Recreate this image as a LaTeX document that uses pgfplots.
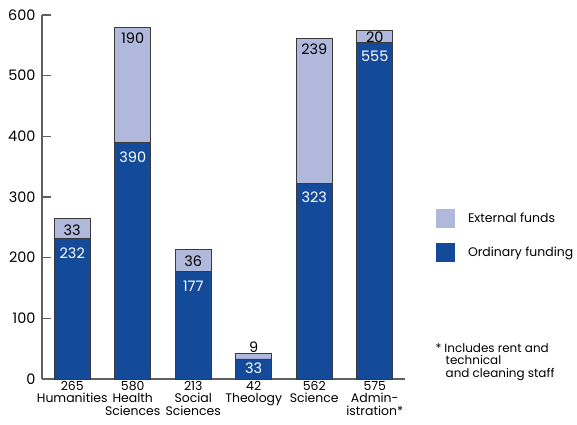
\documentclass[border=0pt]{standalone}
\usepackage{pgfplots}
\pgfplotsset{compat=1.18}
\usepackage{fontspec}
\setmainfont{Poppins}
\definecolor{ordblue}{HTML}{144A9A}
\definecolor{extblue}{HTML}{B0B9DC}
\definecolor{axisgray}{HTML}{606060}
\definecolor{edgegray}{HTML}{3A3A3A}
\tikzset{labelfont/.style={font=\fontsize{14.5}{15}\selectfont, inner sep=1bp}}

% Staff costs per faculty: ordinary funding and external funds
\pgfplotstableread{
x total ordinary external
0 265 232 33
1 580 390 190
2 213 177 36
3 42  33  9
4 562 323 239
5 575 555 20
}\costs

\begin{document}
\begin{tikzpicture}
\path[use as bounding box] (-42bp,-46bp) rectangle (535bp,379bp);
\begin{axis}[
  anchor=south west, at={(0,0)},
  scale only axis, width=363bp, height=364bp, clip=false,
  xmin=-0.5, xmax=5.5, ymin=0, ymax=600,
  axis lines=left, axis line style={axisgray, line width=1.3pt, -},
  ytick={0,100,...,600},
  ytick style={axisgray, line width=1.3pt},
  major tick length=9bp,
  tick align=inside,
  xtick={0,...,5}, xtick style={draw=none},
  xticklabels={265\\Humanities, 580\\Health\\Sciences, 213\\Social\\Sciences,
    42\\Theology, 562\\Science, 575\\Admin-\\istration*},
  xticklabel style={align=center, font=\fontsize{12.5}{12.5}\selectfont, inner sep=1bp, yshift=-1bp},
  yticklabel style={font=\fontsize{14.5}{15}\selectfont, xshift=-3bp},
  /pgf/number format/assume math mode=true,
  legend style={draw=none, fill=none, at={(1.085,0.467)}, anchor=north west,
    font=\fontsize{12.5}{13}\selectfont, row sep=15bp, inner sep=0pt,
    /tikz/every even column/.style={column sep=0pt}},
  legend cell align=left,
  legend image code/.code={\fill[#1, draw=none] (0bp,-9.5bp) rectangle (19bp,9.5bp);},
]
% full bar height (external funds on top of ordinary funding)
\addplot[ybar, bar width=36bp, bar shift=0pt, fill=extblue, draw=edgegray, line width=0.9pt]
  table[x=x, y=total] {\costs};
\addlegendentry{\hspace{11bp}External funds}
% ordinary funding drawn over the lower part
\addplot[ybar, bar width=36bp, bar shift=0pt, fill=ordblue, draw=edgegray, line width=0.9pt]
  table[x=x, y=ordinary] {\costs};
\addlegendentry{\hspace{11bp}Ordinary funding}

% value labels: ordinary funding
\addplot[forget plot, only marks, mark=none, point meta=explicit,
  nodes near coords, nodes near coords style={labelfont, anchor=north, white, yshift=-8bp}]
  table[x=x, y=ordinary, meta=ordinary] {
x ordinary
0 232
1 390
2 177
4 323
5 555
};
\addplot[forget plot, only marks, mark=none, point meta=explicit,
  nodes near coords, nodes near coords style={labelfont, anchor=north, white, inner sep=0pt, yshift=-3.5bp}]
  table[x=x, y=ordinary, meta=ordinary] {
x ordinary
3 33
};
% value labels: external funds
\addplot[forget plot, only marks, mark=none, point meta=explicit,
  nodes near coords, nodes near coords style={labelfont, anchor=north, black, yshift=-5bp}]
  table[x=x, y=total, meta=external] {
x total external
0 265 33
1 580 190
2 213 36
4 562 239
};
\addplot[forget plot, only marks, mark=none, point meta=explicit,
  nodes near coords, nodes near coords style={labelfont, anchor=north, black, yshift=-0.5bp}]
  table[x=x, y=total, meta=external] {
x total external
5 575 20
};
\addplot[forget plot, only marks, mark=none, point meta=explicit,
  nodes near coords, nodes near coords style={labelfont, anchor=south, black, inner sep=0.5bp}]
  table[x=x, y=total, meta=external] {
x total external
3 42 9
};
\node[anchor=north west, align=left, font=\fontsize{12}{13}\selectfont, inner sep=0pt]
  at (rel axis cs:1.084,0.099) {*\hspace{3bp}Includes rent and\\\hspace{10bp}technical\\\hspace{10bp}and cleaning staff};
\end{axis}
\end{tikzpicture}
\end{document}
